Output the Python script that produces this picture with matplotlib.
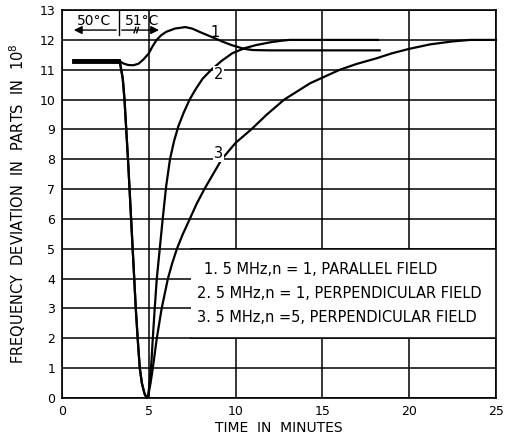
import matplotlib.pyplot as plt
from matplotlib.patches import Rectangle

# curve 1: 5 MHz, n=1, parallel field
x1 = [0.7, 3.3, 3.5, 3.8, 4.1, 4.4, 4.7, 5.0, 5.2, 5.45, 5.7, 6.0, 6.5, 7.1, 7.5, 8.0, 8.7,
      9.3, 9.8, 10.5, 11.0, 12.0, 18.3]
y1 = [11.3, 11.3, 11.22, 11.16, 11.15, 11.2, 11.35, 11.55, 11.77, 12.0, 12.15, 12.27, 12.38,
      12.43, 12.38, 12.25, 12.08, 11.93, 11.82, 11.7, 11.66, 11.65, 11.65]

# common start and dip for curves 2 and 3
xd = [0.7, 3.2, 3.35, 3.5, 3.6, 3.7, 3.8, 3.9, 4.07, 4.25, 4.37, 4.48, 4.6, 4.75, 4.88]
yd = [11.3, 11.3, 11.2, 10.7, 10.0, 9.0, 8.0, 6.9, 5.0, 3.0, 1.9, 1.0, 0.5, 0.15, 0.0]

# curve 2: 5 MHz, n=1, perpendicular field
x2 = [4.97, 5.06, 5.15, 5.23, 5.34, 5.46, 5.63, 5.8, 6.0, 6.22, 6.45, 6.7, 7.0, 7.35, 7.7, 8.1,
      8.6, 9.2, 9.8, 10.5, 11.2, 12.0, 12.6, 13.1, 18.2]
y2 = [0.1, 0.6, 1.2, 2.0, 3.0, 4.0, 5.0, 6.0, 7.1, 8.0, 8.6, 9.1, 9.55, 10.0, 10.35, 10.7,
      11.0, 11.3, 11.55, 11.72, 11.83, 11.92, 11.97, 12.0, 12.0]

# curve 3: 5 MHz, n=5, perpendicular field
x3 = [4.97, 5.1, 5.23, 5.46, 5.74, 6.1, 6.35, 6.62, 6.95, 7.36, 7.75, 8.2, 8.7, 9.2, 10.0,
      10.9, 11.8, 12.8, 14.3, 16.0, 17.0, 18.1, 19.0, 20.0, 21.2, 22.5, 23.5, 25.0]
y3 = [0.1, 0.5, 1.0, 2.0, 3.0, 4.0, 4.52, 5.0, 5.48, 6.0, 6.5, 7.0, 7.5, 8.0, 8.55,
      9.0, 9.5, 10.0, 10.55, 11.0, 11.2, 11.38, 11.55, 11.7, 11.85, 11.95, 12.0, 12.0]

legend_lines = ["1. 5 MHz,n = 1, PARALLEL FIELD",
                "2. 5 MHz,n = 1, PERPENDICULAR FIELD",
                "3. 5 MHz,n =5, PERPENDICULAR FIELD"]

fig = plt.figure(figsize=(5.1, 4.38), dpi=100)
ax = fig.add_axes([0.1216, 0.0913, 0.8509, 0.8857])

ax.set_xlim(0, 25)
ax.set_ylim(0, 13)
ax.set_xticks(range(0, 26, 5))
ax.set_yticks(range(0, 14))
ax.grid(True, color='black', linewidth=1.1, zorder=1)
ax.tick_params(length=0, labelsize=9, pad=5)
for s in ax.spines.values():
    s.set_linewidth(1.2)

# blank area behind the legend text
ax.add_patch(Rectangle((7.45, 2), 25 - 7.45, 3, facecolor='white', edgecolor='none', zorder=2))
ax.plot([7.45, 25], [2, 2], color='black', lw=1.1, zorder=2.5)
ax.plot([7.45, 25], [5, 5], color='black', lw=1.1, zorder=2.5)

ax.plot(x1, y1, color='black', lw=1.6, zorder=3)
ax.plot(xd + x2, yd + y2, color='black', lw=1.6, zorder=3, clip_on=False)
ax.plot(xd + x3, yd + y3, color='black', lw=1.6, zorder=3, clip_on=False)
ax.plot([0.7, 3.2], [11.3, 11.3], color='black', lw=3.5, zorder=3)

ax.text(8.8, 12.25, "1", fontsize=10.5, ha='center', va='center')
ax.text(9.0, 10.85, "2", fontsize=10.5, ha='center', va='center', zorder=4,
        bbox=dict(facecolor='white', edgecolor='none', pad=0.5))
ax.text(9.0, 8.2, "3", fontsize=10.5, ha='center', va='center', zorder=4,
        bbox=dict(facecolor='white', edgecolor='none', pad=0.5))

ax.text(8.2, 4.3, legend_lines[0], fontsize=10.5, va='center', zorder=4)
ax.text(7.8, 3.5, legend_lines[1], fontsize=10.5, va='center', zorder=4)
ax.text(7.8, 2.7, legend_lines[2], fontsize=10.5, va='center', zorder=4)

# temperature annotation
ax.plot([3.28, 3.28], [12.16, 13], color='black', lw=1)
ax.annotate("", xy=(0.52, 12.33), xytext=(3.28, 12.33),
            arrowprops=dict(arrowstyle='-|>', color='black', lw=1, mutation_scale=12))
ax.annotate("", xy=(5.75, 12.33), xytext=(3.28, 12.33),
            arrowprops=dict(arrowstyle='-|>', color='black', lw=1, mutation_scale=12))
ax.plot([4.15, 4.25], [12.24, 12.42], color='black', lw=1)
ax.plot([4.3, 4.4], [12.24, 12.42], color='black', lw=1)
ax.text(1.84, 12.63, "50°C", fontsize=10, ha='center', va='center')
ax.text(4.6, 12.63, "51°C", fontsize=10, ha='center', va='center')

ax.set_xlabel("TIME  IN  MINUTES", fontsize=10, labelpad=2)
ax.set_ylabel("FREQUENCY  DEVIATION  IN  PARTS  IN  10$^8$", fontsize=10.5, labelpad=8)

fig.savefig("out.png", dpi=100)
